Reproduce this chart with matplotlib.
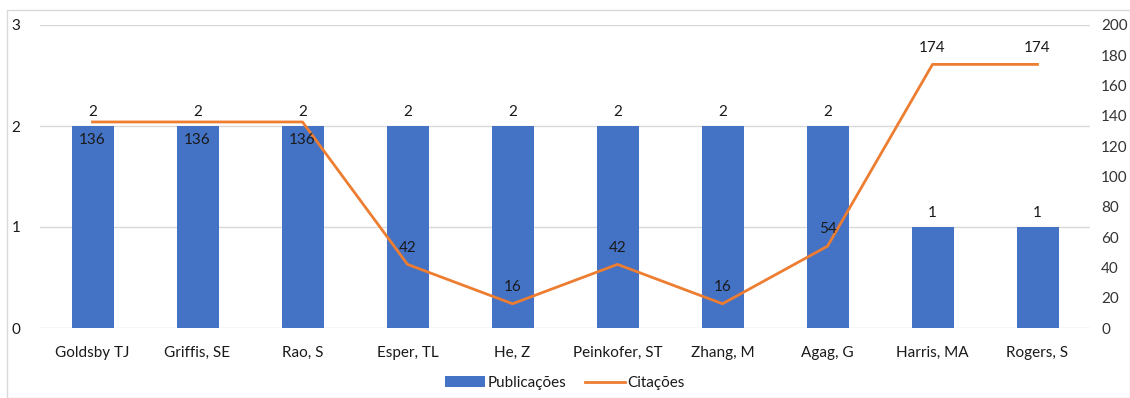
import matplotlib
matplotlib.use("Agg")
import matplotlib.pyplot as plt
from matplotlib.patches import Rectangle
from matplotlib.lines import Line2D
from matplotlib.patches import Patch

authors = ["Goldsby TJ", "Griffis, SE", "Rao, S", "Esper, TL", "He, Z",
           "Peinkofer, ST", "Zhang, M", "Agag, G", "Harris, MA", "Rogers, S"]
publicacoes = [2, 2, 2, 2, 2, 2, 2, 2, 1, 1]
citacoes = [136, 136, 136, 42, 16, 42, 16, 54, 174, 174]
left_ticks = [0, 1, 2, 3]
right_ticks = list(range(0, 201, 20))

plt.rcParams['font.family'] = ['Lato', 'DejaVu Sans']
bar_color = "#4472C4"
line_color = "#ED7D31"
text_color = "#1a1a1a"
tick_color = "#333333"
fs = 11

fig = plt.figure(figsize=(11.30, 3.98), dpi=100)
fig.patches.append(Rectangle((7/1130, 0), 1 - 7/1130, 1 - 10/398, transform=fig.transFigure,
                             fill=False, edgecolor="#d9d9d9", linewidth=1.0))
ax = fig.add_axes([40/1130, 1 - 328/398, 1050/1130, (328 - 25)/398])
x = list(range(len(authors)))
ax.bar(x, publicacoes, width=0.4, color=bar_color, zorder=2)
ax.set_xlim(-0.5, len(authors) - 0.5)
ax.set_ylim(0, 3)
ax.set_yticks(left_ticks)
ax.set_xticks(x)
ax.set_xticklabels(authors, fontsize=fs, color=text_color)
ax.tick_params(axis='both', length=0, labelsize=fs, labelcolor=text_color)
ax.tick_params(axis='x', pad=13)
ax.tick_params(axis='y', pad=14)
ax.grid(axis='y', color="#d9d9d9", linewidth=1.0, zorder=0)
for s in ax.spines.values():
    s.set_visible(False)
for xi, v in zip(x, publicacoes):
    ax.annotate(str(v), (xi, v), xytext=(0, 5), textcoords='offset points',
                ha='center', va='bottom', fontsize=fs, color=text_color)

ax2 = ax.twinx()
ax2.plot(x, citacoes, color=line_color, linewidth=2.0, zorder=3)
ax2.set_ylim(0, 200)
ax2.set_yticks(right_ticks)
ax2.tick_params(axis='y', length=0, labelsize=fs, labelcolor=tick_color, pad=8)
for s in ax2.spines.values():
    s.set_visible(False)
for xi, v in zip(x, citacoes):
    if v == 136:
        off, va = -8, 'top'
    else:
        off, va = 7, 'bottom'
    ax2.annotate(str(v), (xi, v), xytext=(0, off), textcoords='offset points',
                 ha='center', va=va, fontsize=fs, color=text_color)

handles = [Patch(facecolor=bar_color, edgecolor='none'),
           Line2D([0], [0], color=line_color, linewidth=2.0)]
fig.legend(handles, ["Publicações", "Citações"], loc='center', bbox_to_anchor=(0.5, 1 - 383/398),
           ncol=2, frameon=False, fontsize=fs, handlelength=2.6, columnspacing=1.2,
           handletextpad=0.2, labelcolor=text_color)

fig.savefig("out.png", dpi=100)
